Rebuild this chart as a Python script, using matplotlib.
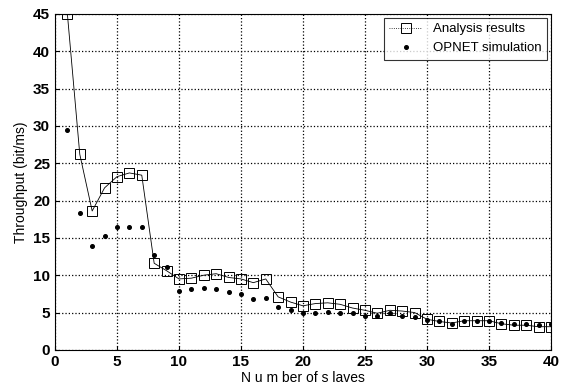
import matplotlib.pyplot as plt
import numpy as np

plt.rcParams["font.family"] = ["Liberation Sans", "DejaVu Sans"]

slaves = np.arange(1, 41)
analysis = [45.0, 26.2, 18.6, 21.7, 23.2, 23.7, 23.4, 11.6, 10.6, 9.5,
            9.6, 10.0, 10.2, 9.7, 9.5, 9.0, 9.5, 7.1, 6.4, 5.9,
            6.2, 6.3, 6.1, 5.6, 5.3, 4.9, 5.3, 5.2, 5.0, 4.1,
            3.8, 3.6, 3.9, 3.9, 3.9, 3.5, 3.3, 3.3, 3.1, 3.1]
opnet = [29.5, 18.3, 13.9, 15.3, 16.4, 16.5, 16.5, 12.7, 11.1, 7.9,
         8.2, 8.3, 8.2, 7.8, 7.5, 6.8, 7.0, 5.7, 5.3, 5.0,
         5.0, 5.1, 5.0, 5.0, 4.6, 4.5, 4.9, 4.6, 4.4, 4.0,
         3.8, 3.5, 3.8, 3.8, 3.8, 3.6, 3.4, 3.5, 3.3, 3.4]

fig = plt.figure(figsize=(5.61, 3.87), dpi=100)
ax = fig.add_axes([0.098, 0.096, 0.884, 0.868])

ax.plot(slaves, analysis, color="black", lw=0.6, marker="s", ms=6.5,
        mfc="none", mec="black", mew=0.7, label="Analysis results")
ax.plot(slaves, opnet, ls="none", marker="o", ms=2.6, color="black",
        label="OPNET simulation")

ax.set_xlim(0, 40)
ax.set_ylim(0, 45)
ax.set_xticks(np.arange(0, 41, 5))
ax.set_yticks(np.arange(0, 46, 5))
ax.grid(True, color="black", ls=":", lw=0.9)
ax.tick_params(direction="in", labelsize=11, length=3)
for lab in ax.get_xticklabels() + ax.get_yticklabels():
    lab.set_fontweight("bold")

ax.set_xlabel("N u m ber of s laves", fontsize=10, labelpad=2)
ax.set_ylabel("Throughput (bit/ms)", fontsize=10, labelpad=4)

leg = ax.legend(loc="upper right", fontsize=9.5, frameon=True, fancybox=False,
                edgecolor="black", borderaxespad=0.3, handlelength=2.5)
leg.get_frame().set_linewidth(0.8)
leg.get_lines()[0].set_linestyle(":")

fig.savefig("out.png", dpi=100)
